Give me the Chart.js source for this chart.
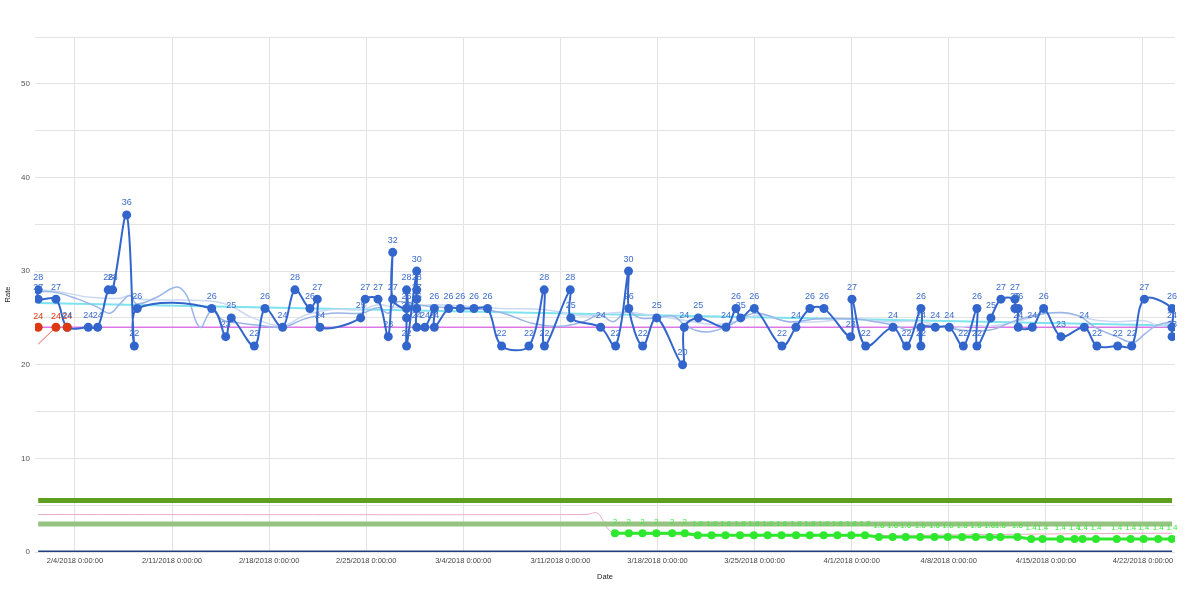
<!DOCTYPE html>
<html>
<head>
<meta charset="utf-8">
<script src="https://cdn.jsdelivr.net/npm/chart.js@4.4.1/dist/chart.umd.min.js"></script>
<style>
  html, body { margin: 0; padding: 0; background: #ffffff; }
  #wrap { width: 1200px; height: 601px; }
</style>
</head>
<body>
<div id="wrap"><canvas id="c" width="1200" height="601"></canvas></div>
<script>
// ---------------- DATA (x = days after 2/4/2018) ----------------
const tickDays = [0, 7, 14, 21, 28, 35, 42, 49, 56, 63, 70, 77];
const tickLabels = ['2/4/2018 0:00:00', '2/11/2018 0:00:00', '2/18/2018 0:00:00', '2/25/2018 0:00:00',
  '3/4/2018 0:00:00', '3/11/2018 0:00:00', '3/18/2018 0:00:00', '3/25/2018 0:00:00',
  '4/1/2018 0:00:00', '4/8/2018 0:00:00', '4/15/2018 0:00:00', '4/22/2018 0:00:00'];
const yTickValues = [0, 10, 20, 30, 40, 50];

const mainDays = [-2.65, -2.65, -1.37, -0.56, 0.96, 1.64, 2.40, 2.72, 3.73, 4.28, 4.49,
  9.86, 10.87, 11.27, 12.93, 13.70, 14.97, 15.86, 16.94, 17.47, 17.66,
  20.60, 20.93, 21.85, 22.59, 22.91, 22.91, 23.91, 23.91, 23.91, 23.91,
  24.64, 24.64, 24.64, 24.64, 24.64, 25.23, 25.91, 25.91, 26.94, 27.78, 28.77, 29.75,
  30.76, 32.73, 33.83, 33.85, 35.71, 35.75, 37.90, 38.98, 39.91, 39.93, 40.93, 41.94,
  43.81, 43.93, 44.94, 46.94, 47.66, 48.00, 48.98, 50.97, 51.98, 52.99, 54.00,
  55.93, 56.02, 57.01, 58.98, 59.96, 60.99, 60.99, 60.99, 62.03, 63.04, 64.05,
  65.03, 65.03, 66.04, 66.76, 67.77, 67.77, 68.01, 68.01, 69.02, 69.84, 71.09,
  72.77, 73.68, 75.18, 76.19, 77.10, 79.10, 79.10, 79.10];
const mainRates = [28, 27, 27, 24, 24, 24, 28, 28, 36, 22, 26,
  26, 23, 25, 22, 26, 24, 28, 26, 27, 24,
  25, 27, 27, 23, 32, 27, 26, 28, 25, 22,
  30, 28, 27, 26, 24, 24, 26, 24, 26, 26, 26, 26,
  22, 22, 28, 22, 28, 25, 24, 22, 30, 26, 22, 25,
  20, 24, 25, 24, 26, 25, 26, 22, 24, 26, 26,
  23, 27, 22, 24, 22, 26, 22, 24, 24, 24, 22,
  26, 22, 25, 27, 27, 26, 26, 24, 24, 26, 23,
  24, 22, 22, 22, 27, 26, 24, 23];

const redDays = [-2.65, -1.37, -0.56];
const redRates = [24, 24, 24];
const redTrendDays = [-2.65, -1.45];
const redTrendRates = [22.2, 23.9];

const lowDays = [38.93, 39.93, 40.92, 41.92, 43.06, 43.97,
  44.90, 45.90, 46.90, 47.95, 48.95, 49.94, 50.94, 51.99, 52.98, 53.98, 54.97, 55.97, 56.96,
  57.96, 58.95, 59.89, 60.94, 61.97, 62.93, 63.96, 64.95, 65.95, 66.72, 67.95,
  68.94, 69.76, 71.05, 72.07, 72.64, 73.61, 75.11, 76.11, 77.05, 78.10, 79.09];
const lowRates = [2, 2, 2, 2, 2, 2,
  1.8, 1.8, 1.8, 1.8, 1.8, 1.8, 1.8, 1.8, 1.8, 1.8, 1.8, 1.8, 1.8,
  1.6, 1.6, 1.6, 1.6, 1.6, 1.6, 1.6, 1.6, 1.6, 1.6, 1.6,
  1.4, 1.4, 1.4, 1.4, 1.4, 1.4, 1.4, 1.4, 1.4, 1.4, 1.4];

const avgADays = [-2.65, -1.32, 0.12, 1.56, 2.52, 3.24, 3.97, 4.45, 5.89, 7.33, 8.05, 9.01, 9.86,
  10.69, 12.13, 13.34, 15.0, 16.58, 18.5, 20.67, 21.87, 22.59, 23.19, 24.28, 25.72, 28.6,
  30.64, 33.04, 34.97, 36.65, 37.85, 38.81, 39.78, 40.74, 41.94, 43.14, 44.1, 45.54, 46.99,
  49.03, 51.43, 53.59, 56.0, 57.68, 59.12, 60.08, 61.05, 62.96, 63.81, 65.97, 67.89, 70.06,
  72.22, 73.66, 75.1, 76.3, 77.14, 77.99, 79.1];
const avgARates = [27.85, 27.7, 27.06, 26.2, 25.5, 26.5, 27.4, 26.5, 27.2, 28.3, 27.4, 24.0, 25.8,
  24.75, 24.4, 24.2, 24.0, 24.9, 25.5, 25.5, 26.1, 25.5, 26.7, 26.5, 26.2, 26.0,
  25.6, 24.4, 24.1, 24.6, 25.3, 24.6, 25.7, 25.0, 25.0, 25.2, 24.1, 23.5, 24.1,
  25.5, 24.6, 24.9, 24.9, 24.6, 24.2, 23.7, 24.2, 24.0, 23.7, 23.7, 24.75, 25.5,
  25.3, 23.9, 23.0, 22.4, 23.3, 24.2, 24.6];

const avgBDays = [-2.65, -1.32, 1.08, 3.24, 3.97, 4.69, 7.57, 9.73, 11.18, 12.83, 15.0, 16.58,
  18.5, 20.67, 21.87, 23.19, 25.72, 28.6, 30.64, 33.76, 36.65, 37.85, 39.78, 41.94, 44.1,
  46.02, 47.58, 49.51, 51.43, 53.59, 56.0, 58.4, 61.05, 62.96, 64.89, 65.97, 67.89, 70.06,
  71.5, 73.42, 75.1, 77.14, 78.23, 79.1];
const avgBRates = [28.0, 27.85, 27.2, 27.1, 27.4, 27.0, 26.9, 26.8, 26.3, 25.0, 24.2, 25.3,
  25.9, 25.9, 26.4, 26.1, 26.4, 26.2, 26.0, 25.9, 25.2, 25.4, 25.6, 25.2, 24.7,
  24.3, 24.6, 25.3, 24.6, 24.6, 24.9, 24.6, 24.6, 23.9, 24.2, 24.1, 24.6, 25.5,
  25.5, 24.8, 24.6, 24.7, 24.1, 24.8];

const spanDays = [-2.65, 79.1];
const trendRates = [26.6, 24.2];
const baseRates = [24, 24];
const upperRates = [5.5, 5.5];
const lowerRates = [3.0, 3.0];
const zeroRates = [0, 0];
const pinkDays = [-2.65, 36.9, 37.3, 37.7, 38.9, 79.1];
const pinkRates = [4.0, 4.0, 4.15, 4.15, 2.0, 2.0];

// ---------------- CHART ----------------
const pts = (xs, ys) => xs.map((x, i) => ({ x: x, y: ys[i] }));
const FONT = "'Liberation Sans', Arial, sans-serif";

const labelPlugin = {
  id: 'pointValueLabels',
  afterDatasetsDraw(chart) {
    const ctx = chart.ctx;
    chart.data.datasets.forEach((ds, i) => {
      if (!ds.valueLabels) return;
      const meta = chart.getDatasetMeta(i);
      ctx.save();
      ctx.font = ds.valueLabels.font;
      ctx.fillStyle = ds.valueLabels.color;
      ctx.textAlign = 'center';
      ctx.textBaseline = 'middle';
      meta.data.forEach((el, j) => {
        ctx.fillText(String(ds.data[j].y), el.x, el.y - ds.valueLabels.offset);
      });
      ctx.restore();
    });
  }
};

Chart.defaults.font.family = FONT;
Chart.defaults.font.size = 8;

const lineDs = (label, data, color, width, order, extra) => Object.assign({
  label: label, data: data, borderColor: color, backgroundColor: color,
  borderWidth: width, pointRadius: 0, pointHoverRadius: 0, tension: 0, order: order,
  fill: false
}, extra || {});

new Chart(document.getElementById('c'), {
  type: 'line',
  data: {
    datasets: [
      lineDs('Red', pts(redDays, redRates), '#dc3912', 0, 1,
        { showLine: false, pointRadius: 4.5, pointBorderWidth: 0,
          valueLabels: { font: "9px " + FONT, color: '#dc3912', offset: 11 } }),
      lineDs('Red trend', pts(redTrendDays, redTrendRates), '#e06060', 1, 2),
      lineDs('Rate', pts(mainDays, mainRates), '#3366cc', 2, 3,
        { tension: 0.35, pointRadius: 4.5, pointBorderWidth: 0,
          valueLabels: { font: "9px " + FONT, color: '#3a6ccc', offset: 12 } }),
      lineDs('Low', pts(lowDays, lowRates), '#2ee82e', 3, 4,
        { pointRadius: 4, pointBorderWidth: 0,
          valueLabels: { font: "8px " + FONT, color: '#3ee83e', offset: 11 } }),
      lineDs('Zero', pts(spanDays, zeroRates), '#1f3f7f', 3, 5),
      lineDs('Lower', pts(spanDays, lowerRates), '#96c382', 5, 6),
      lineDs('Pink', pts(pinkDays, pinkRates), '#eeaac8', 1, 7, { tension: 0.3 }),
      lineDs('Upper', pts(spanDays, upperRates), '#5e9f20', 5, 8),
      lineDs('Avg A', pts(avgADays, avgARates), '#9ab6e6', 1.5, 9, { tension: 0.4 }),
      lineDs('Avg B', pts(avgBDays, avgBRates), '#cbd8f2', 1.5, 10, { tension: 0.4 }),
      lineDs('Trend', pts(spanDays, trendRates), '#7ee3ef', 2, 11),
      lineDs('Base', pts(spanDays, baseRates), '#de78e6', 1.5, 12)
    ]
  },
  options: {
    responsive: false,
    animation: false,
    events: [],
    layout: { padding: { top: 37, right: 25, left: 0, bottom: 0 } },
    plugins: { legend: { display: false }, tooltip: { enabled: false }, title: { display: false } },
    scales: {
      x: {
        type: 'linear',
        min: -2.88,
        max: 79.31,
        afterBuildTicks: (scale) => { scale.ticks = tickDays.map(v => ({ value: v })); },
        afterFit: (scale) => { scale.height = 49; },
        grid: { color: '#e3e3e3', drawTicks: false },
        border: { display: false },
        ticks: {
          autoSkip: false, maxRotation: 0, padding: 4, color: '#444',
          font: { size: 7.5 },
          callback: (v) => { const i = tickDays.indexOf(v); return i >= 0 ? tickLabels[i] : ''; }
        },
        title: { display: true, text: 'Date', color: '#222', font: { size: 7.5 }, padding: { top: 0, bottom: 20 } }
      },
      y: {
        min: 0,
        max: 55,
        afterFit: (scale) => { scale.width = 35; },
        grid: { color: '#e3e3e3', drawTicks: false },
        border: { display: false },
        ticks: {
          stepSize: 5, padding: 5, color: '#555', font: { size: 8 },
          callback: (v) => yTickValues.indexOf(v) >= 0 ? String(v) : ''
        },
        title: { display: true, text: 'Rate', color: '#222', font: { size: 7.5 }, padding: { top: 3, bottom: 0 } }
      }
    }
  },
  plugins: [labelPlugin]
});
</script>
</body>
</html>
